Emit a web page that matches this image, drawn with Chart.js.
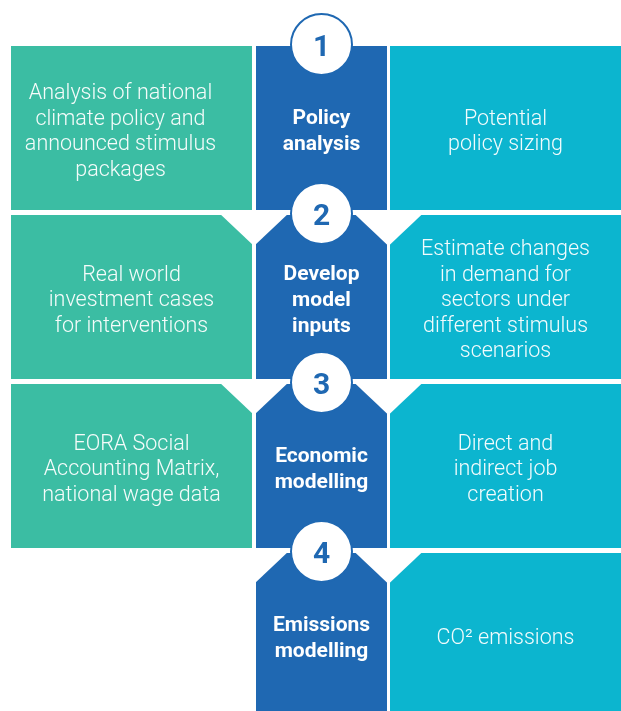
<!DOCTYPE html>
<html>
<head>
<meta charset="utf-8">
<script src="https://cdn.jsdelivr.net/npm/chart.js@4.4.1/dist/chart.umd.min.js"></script>
<style>
  body { margin: 0; background: #fff; }
  #wrap { width: 621px; height: 711px; overflow: hidden; }
</style>
</head>
<body>
<div id="wrap"><canvas id="flow" width="621" height="720"></canvas></div>
<script>
// steps of the method, top to bottom
const steps = ['1', '2', '3', '4'];
const stepTitles = [
  ['Policy', 'analysis'],
  ['Develop', 'model', 'inputs'],
  ['Economic', 'modelling'],
  ['Emissions', 'modelling']
];
const inputNotes = [
  ['Analysis of national', 'climate policy and', 'announced stimulus', 'packages'],
  ['Real world', 'investment cases', 'for interventions'],
  ['EORA Social', 'Accounting Matrix,', 'national wage data'],
  null
];
const outputNotes = [
  ['Potential', 'policy sizing'],
  ['Estimate changes', 'in demand for', 'sectors under', 'different stimulus', 'scenarios'],
  ['Direct and', 'indirect job', 'creation'],
  ['CO² emissions']
];

// layout
const COLS = { input: [11, 252], step: [256, 387], output: [390, 621] };
const INPUT_TEXT_SHIFT = [-11, 0, 0, 0]; // first note sits a bit left in the original
const GREEN = '#3bbda3';
const BLUE = '#1f68b2';
const CYAN = '#0cb5cf';

const ctx = document.getElementById('flow').getContext('2d');

function column(range, notes) {
  return steps.map((s, i) => (notes && notes[i] === null) ? null : range.slice());
}

function drawLines(c, lines, cx, cy, font, lh) {
  c.font = font;
  c.textAlign = 'center';
  c.textBaseline = 'middle';
  const y0 = cy - (lines.length - 1) * lh / 2;
  lines.forEach((l, k) => c.fillText(l, cx, y0 + k * lh));
}

const flowPlugin = {
  id: 'flow',
  afterDatasetsDraw(chart) {
    const c = chart.ctx;
    const xs = chart.scales.x;
    const stepMeta = chart.getDatasetMeta(1);
    const leftGap = xs.getPixelForValue((COLS.input[1] + COLS.step[0]) / 2);
    const rightGap = xs.getPixelForValue((COLS.step[1] + COLS.output[0]) / 2);
    const inCx = xs.getPixelForValue((COLS.input[0] + COLS.input[1]) / 2);
    const stCx = xs.getPixelForValue((COLS.step[0] + COLS.step[1]) / 2);
    const outCx = xs.getPixelForValue((COLS.output[0] + COLS.output[1]) / 2);

    c.save();
    stepMeta.data.forEach((bar, i) => {
      const top = bar.y - bar.height / 2;
      const cy = bar.y + 4;

      // downward notches between rows
      if (i > 0) {
        c.fillStyle = '#fff';
        [leftGap, rightGap].forEach(gx => {
          c.beginPath();
          c.moveTo(gx - 36, top - 3);
          c.lineTo(gx + 36, top - 3);
          c.lineTo(gx, top + 31);
          c.closePath();
          c.fill();
        });
      }

      // numbered circle
      c.beginPath();
      c.arc(stCx, top - 1.5, 30.5, 0, Math.PI * 2);
      c.fillStyle = '#fff';
      c.fill();
      c.lineWidth = 2;
      c.strokeStyle = BLUE;
      c.stroke();
      c.fillStyle = BLUE;
      c.font = 'bold 30px Roboto';
      c.textAlign = 'center';
      c.textBaseline = 'alphabetic';
      c.fillText(steps[i], stCx, top - 1.5 + 11.5);

      // texts
      c.fillStyle = '#fff';
      drawLines(c, stepTitles[i], stCx, cy, 'bold 21px Roboto', 26);
      c.fillStyle = 'rgba(255,255,255,0.95)';
      if (inputNotes[i]) drawLines(c, inputNotes[i], inCx + INPUT_TEXT_SHIFT[i], cy, '300 21.5px Roboto', 25.5);
      drawLines(c, outputNotes[i], outCx, cy, '300 21.5px Roboto', 25.5);
    });
    c.restore();
  }
};

new Chart(ctx, {
  type: 'bar',
  data: {
    labels: steps,
    datasets: [
      { label: 'Inputs', data: column(COLS.input, inputNotes), backgroundColor: GREEN },
      { label: 'Steps', data: column(COLS.step), backgroundColor: BLUE },
      { label: 'Outputs', data: column(COLS.output), backgroundColor: CYAN }
    ]
  },
  options: {
    indexAxis: 'y',
    responsive: false,
    animation: false,
    grouped: false,
    categoryPercentage: 1,
    barPercentage: 164 / 169,
    borderWidth: 0,
    layout: { padding: { top: 43.5, bottom: 0.5, left: 0, right: 0 } },
    plugins: { legend: { display: false }, tooltip: { enabled: false } },
    scales: {
      x: { type: 'linear', min: 0, max: 621, display: false },
      y: { type: 'category', display: false, offset: true }
    }
  },
  plugins: [flowPlugin]
});
</script>
</body>
</html>
